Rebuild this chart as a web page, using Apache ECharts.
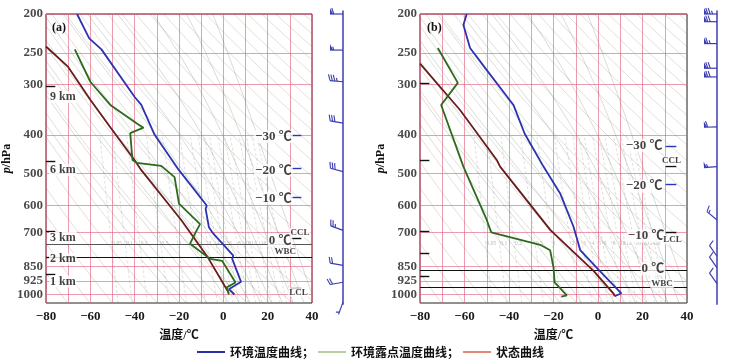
<!DOCTYPE html>
<html><head><meta charset="utf-8">
<script src="https://cdn.jsdelivr.net/npm/echarts@6/dist/echarts.min.js"></script>
<style>html,body{margin:0;padding:0;background:#fff}#c{width:729px;height:363px}</style>
</head><body><div id="c"></div>
<script>
// ---------------- data ----------------
const pressureTicks = [200, 250, 300, 400, 500, 600, 700, 850, 925, 1000];
// Panel (a): [temperature °C, pressure hPa]
const envTempA  = [[-66,200],[-60.5,230],[-55,245],[-40,322],[-37,337],[-31,400],[-20,490],[-7.5,600],[-8,612],[-6.5,680],[-5,700],[4.5,800],[4,815],[8,930],[2.5,970],[5,1000]];
const dewPointA = [[-67,245],[-60,295],[-51,337],[-39,375],[-36,384],[-42,396],[-41,462],[-39,470],[-28,478],[-22,510],[-20,594],[-10.5,668],[-12.5,700],[-15,747],[-6,815],[-0.5,825],[5.5,933],[1.5,960],[2.5,1000]];
const stateA    = [[-80,241],[-70,271],[-60,327],[-51,383],[-40,463],[-37,490],[-19,652],[-7,808],[1.5,970],[2.5,990]];
// Panel (b)
const envTempB  = [[-59,200],[-60.5,213],[-57.5,243],[-50,276],[-38,337],[-33,397],[-24.5,480],[-17,560],[-11,678],[-8,775],[0,864],[10.5,993],[7.5,1010]];
const dewPointB = [[-72,243],[-63,297],[-70.5,337],[-60.5,480],[-50,652],[-48,700],[-26,752],[-21.5,776],[-20,856],[-19.5,933],[-14,1005],[-16.5,1013]];
const stateB    = [[-80,266],[-62,347],[-45.5,462],[-44,480],[-21.5,690],[-2,873],[7,995],[7.5,1010]];
// wind barbs: pressure, speed (m/s), direction (deg)
const windPA = [200,246,295,374,494,692,846,932,1045];
const windSA = [24,22,14,12,12,10,8,8,2];
const windDA = [270,270,275,280,285,290,280,260,200];
const windPB = [200,209,237,273,287,382,480,652,803,858,940];
const windSB = [30,28,26,28,28,24,22,6,4,4,4];
const windDB = [270,270,270,270,270,268,265,310,325,325,325];
// background reference-line parameters
const dryThetas = [200,210,220,230,240,250,260,270,280,290,300,310,320,330,340,350,360,370,380,390,400,410,420,430,440,450,460,470,480,490,500];
const moistT1000 = [-20,-10,0,5,10,15,20,25,30,35,40];
const mixRatios = [0.05,0.1,0.2,0.5,1,2,3,4,5,6,8,10,12,16,20,24,28];
// annotations: [text, T, p, fontSize]
const kmLabelsA = [['9 km',322],['6 km',490],['3 km',723],['2 km',817],['1 km',928]];
const kmTicksA = [302,465,694,807,892];
const kmTicksB = [298,462,696,790,900];
const isoLabelsA = [['−30 ℃',22.6,404,13],['−20 ℃',22.6,490,13],['−10 ℃',22.6,576,13],['0 ℃',25.6,733,13],['CCL',34.6,700,9],['WBC',27.9,784,9],['LCL',33.9,987,9]];
const isoDashA = [[402,'#2a34b8'],[485,'#2a34b8'],[572,'#2a34b8'],[723,'#111'],[964,'#111']];
const levelLinesA = [[751,'#555'],[807,'#111']];
const isoLabelsB = [['−30 ℃',20.7,426,13],['CCL',33.0,465,9],['−20 ℃',20.7,537,13],['−10 ℃',21.6,715,13],['LCL',33.5,731,9],['0 ℃',24.7,862,13],['WBC',28.8,939,9]];
const isoDashB = [[426,'#2a34b8'],[480,'#111'],[532,'#2a34b8'],[698,'#111']];
const levelLinesB = [[871,'#111'],[960,'#111']];

// ---------------- helpers ----------------
const SERIF = "'Liberation Serif','Noto Sans CJK SC',serif";
const PINK = 'rgba(226,96,126,0.62)';
const BLUE = '#2d33b0', GREEN = '#2c6a1c', BROWN = '#6a1c1c';
function thetaToT(theta, p){ return theta*Math.pow(p/1000,0.2857)-273.15; }
function es(tc){ return 6.112*Math.exp(17.67*tc/(tc+243.5)); }
function moistRate(T,p){
  const e=es(T-273.15), rs=0.622*e/(p-e);
  const num=287.04*T+2.501e6*rs;
  const den=1005.7+2.501e6*2.501e6*rs*0.622/(287.04*T*T);
  return num/den/p;
}
function moistCurve(t0){
  const down=[]; let T=t0+273.15, p=1000;
  while(p<1050){ const k1=moistRate(T,p), k2=moistRate(T+k1*5,p+5); T+=(k1+k2)/2*5; p+=5; }
  down.push([T-273.15,1050]);
  const up=[[t0,1000]]; T=t0+273.15; p=1000;
  while(p>200){ const k1=moistRate(T,p), k2=moistRate(T-k1*5,p-5); T-=(k1+k2)/2*5; p-=5; if(p%25===0) up.push([T-273.15,p]); }
  return down.concat(up);
}
function mixT(w,p){ const e=w*p/(622+w), l=Math.log(e/6.112); return 243.5*l/(17.67-l); }
const pLevels = []; for (let p=1050; p>=200; p-=25) pLevels.push(p);

function barbRender(params, api){
  const p=api.value(1), spd=api.value(2), dir=api.value(3)*Math.PI/180;
  const o=api.coord([1,p]);
  const vx=Math.sin(dir), vy=-Math.cos(dir), qx=-vy, qy=vx;
  const L=13, F=6, st=2.4, col='#3a3db4';
  const ch=[{type:'line',shape:{x1:o[0],y1:o[1],x2:o[0]+vx*L,y2:o[1]+vy*L},style:{stroke:col,lineWidth:1.2}}];
  let r=spd, d=L;
  while(r>=20){
    const a=[o[0]+vx*d,o[1]+vy*d], b=[o[0]+vx*(d-st*1.3),o[1]+vy*(d-st*1.3)], c=[a[0]+qx*F,a[1]+qy*F];
    ch.push({type:'polygon',shape:{points:[a,c,b]},style:{fill:col}}); d-=st*1.6; r-=20;
  }
  while(r>=4){
    const a=[o[0]+vx*d,o[1]+vy*d];
    ch.push({type:'line',shape:{x1:a[0],y1:a[1],x2:a[0]+qx*F+vx*F*0.35,y2:a[1]+qy*F+vy*F*0.35},style:{stroke:col,lineWidth:1.1}});
    d-=st; r-=4;
  }
  if(r>=2){
    if(d===L) d-=st;
    const a=[o[0]+vx*d,o[1]+vy*d], h=F*0.55;
    ch.push({type:'line',shape:{x1:a[0],y1:a[1],x2:a[0]+qx*h+vx*h*0.35,y2:a[1]+qy*h+vy*h*0.35},style:{stroke:col,lineWidth:1.1}});
  }
  return {type:'group',children:ch};
}

function panelSeries(i, env, dew, state, kmTicks, kmLabels, isoLabels, isoDash, levelLines){
  const ax = {xAxisIndex:i, yAxisIndex:i};
  const S = [];
  S.push(Object.assign({type:'lines', coordinateSystem:'cartesian2d', polyline:true, silent:true, clip:true, z:2,
    lineStyle:{color:'rgba(150,120,100,0.62)', width:0.8},
    data: dryThetas.map(th=>({coords:pLevels.map(p=>[thetaToT(th,p),p])}))}, ax));
  S.push(Object.assign({type:'lines', coordinateSystem:'cartesian2d', polyline:true, silent:true, clip:true, z:2,
    lineStyle:{color:'rgba(75,125,90,0.62)', width:0.8},
    data: moistT1000.map(t=>({coords:moistCurve(t)}))}, ax));
  S.push(Object.assign({type:'lines', coordinateSystem:'cartesian2d', polyline:true, silent:true, clip:true, z:2,
    lineStyle:{color:'rgba(115,115,115,0.55)', width:0.8, type:[3,2]},
    data: mixRatios.map(w=>({coords:[1050,900,750,600,400].map(p=>[mixT(w,p),p])}))}, ax));
  S.push(Object.assign({type:'scatter', silent:true, clip:false, symbolSize:0, z:3,
    data: mixRatios.map(w=>({value:[mixT(w,745),745], name:String(w)})),
    label:{show:true, position:'right', distance:1, formatter:'{b}', fontSize:5.5, color:'#a8a8a8', fontFamily:SERIF}}, ax));
  S.push(Object.assign({type:'scatter', silent:true, clip:false, symbolSize:0, z:3,
    data: pressureTicks.map(p=>({value:[-80,p], name:String(p)})),
    label:{show:true, position:'left', distance:3, formatter:'{b}', fontSize:13, fontWeight:'bold', color:'#1a1a1a', fontFamily:SERIF},
    markLine:{silent:true, symbol:'none', label:{show:false}, lineStyle:{color:PINK, width:1, type:'solid'},
      data: pressureTicks.map(p=>({yAxis:p}))}}, ax));
  const ml = levelLines.map(l=>({yAxis:l[0], lineStyle:{color:l[1], width:1.2, type:'solid'}}));
  kmTicks.forEach(p=>ml.push([{coord:[-80,p], lineStyle:{color:'#111', width:1.4, type:'solid'}},{coord:[-75.8,p]}]));
  isoDash.forEach(d=>ml.push([{coord:[30.4,d[0]], lineStyle:{color:d[1], width:1.4, type:'solid'}},{coord:[35.2,d[0]]}]));
  S.push(Object.assign({type:'line', name:'环境温度曲线；', data:env, symbol:'none', z:10, lineStyle:{color:BLUE,width:1.8}, itemStyle:{color:BLUE},
    markLine:{silent:true, symbol:'none', label:{show:false}, data:ml}}, ax));
  S.push(Object.assign({type:'line', name:'环境露点温度曲线；', data:dew, symbol:'none', z:10, lineStyle:{color:GREEN,width:1.8}, itemStyle:{color:GREEN}}, ax));
  S.push(Object.assign({type:'line', name:'状态曲线', data:state, symbol:'none', z:9, lineStyle:{color:BROWN,width:1.8}, itemStyle:{color:BROWN}}, ax));
  S.push(Object.assign({type:'scatter', silent:true, clip:false, symbolSize:0, z:20,
    data: isoLabels.map(a=>({value:[a[1],a[2]], name:a[0], label:{fontSize:a[3]}})),
    label:{show:true, position:'inside', formatter:'{b}', fontWeight:'bold', color:'#111', fontFamily:SERIF, backgroundColor:'#fff', padding:[0,1]}}, ax));
  if (kmLabels.length) S.push(Object.assign({type:'scatter', silent:true, clip:false, symbolSize:0, z:20,
    data: kmLabels.map(k=>({value:[-80,k[1]], name:k[0]})),
    label:{show:true, position:'right', distance:3, formatter:'{b}', fontSize:12, fontWeight:'bold', color:'#111', fontFamily:SERIF, backgroundColor:'#fff', padding:[0,1]}}, ax));
  return S;
}

function windSeries(i, P, Sp, D){
  const ax = {xAxisIndex:i, yAxisIndex:i};
  return [
    Object.assign({type:'line', silent:true, clip:false, symbol:'none', data:[[1,196],[1,1060]], lineStyle:{color:'#3a3db4', width:1.5}}, ax),
    Object.assign({type:'custom', silent:true, clip:false, renderItem:barbRender, encode:{x:0,y:1},
      data: P.map((p,k)=>[1,p,Sp[k],D[k]])}, ax)
  ];
}

const tempAxis = gi => ({type:'value', gridIndex:gi, min:-80, max:40, interval:10,
  name:'温度/℃', nameLocation:'middle', nameGap:27,
  nameTextStyle:{fontFamily:SERIF, fontWeight:'bold', fontSize:12, color:'#111'},
  axisLine:{show:false}, axisTick:{show:false},
  axisLabel:{margin:7, fontFamily:SERIF, fontWeight:'bold', fontSize:13, color:'#1a1a1a',
    formatter:v=> v%20===0 ? (v<0?'−'+Math.abs(v):String(v)) : ''},
  splitLine:{show:true, lineStyle:{color:PINK, width:1}}});
const presAxis = gi => ({type:'log', gridIndex:gi, min:200, max:1050, inverse:true,
  name:'{i|p}/hPa', nameLocation:'middle', nameGap:33, nameRotate:90,
  nameTextStyle:{fontFamily:SERIF, fontWeight:'bold', fontSize:12, color:'#111', rich:{i:{fontStyle:'italic', fontFamily:SERIF, fontWeight:'bold', fontSize:12}}},
  axisLine:{show:false}, axisTick:{show:false}, axisLabel:{show:false}, splitLine:{show:false}});
const hidX = gi => ({type:'value', gridIndex:gi, min:0, max:1, show:false});
const hidY = gi => ({type:'log', gridIndex:gi, min:200, max:1050, inverse:true, show:false});

const option = {
  backgroundColor:'#fff',
  animation:false,
  title:[
    {text:'(a)', left:47, top:17, textStyle:{fontFamily:SERIF, fontWeight:'bold', fontSize:12, color:'#111'}},
    {text:'(b)', left:422, top:17, textStyle:{fontFamily:SERIF, fontWeight:'bold', fontSize:12, color:'#111'}}
  ],
  legend:{left:197, top:346, padding:0, icon:'rect', itemWidth:28, itemHeight:2, itemGap:4,
    textStyle:{fontFamily:"'Noto Sans CJK SC'", fontWeight:'bold', fontSize:12, color:'#111'},
    data:[{name:'环境温度曲线；', itemStyle:{color:'#2a2fa8'}},
          {name:'环境露点温度曲线；', itemStyle:{color:'#b9cfa0'}},
          {name:'状态曲线', itemStyle:{color:'#e08a78'}}]},
  grid:[
    {left:45, top:14, width:267, height:289, show:true, borderColor:'#222', borderWidth:1, backgroundColor:'#fff'},
    {left:420, top:14, width:267, height:289, show:true, borderColor:'#222', borderWidth:1, backgroundColor:'#fff'},
    {left:325, top:14, width:18, height:289},
    {left:699, top:14, width:18, height:289}
  ],
  xAxis:[tempAxis(0), tempAxis(1), hidX(2), hidX(3)],
  yAxis:[presAxis(0), presAxis(1), hidY(2), hidY(3)],
  series:[].concat(
    panelSeries(0, envTempA, dewPointA, stateA, kmTicksA, kmLabelsA, isoLabelsA, isoDashA, levelLinesA),
    panelSeries(1, envTempB, dewPointB, stateB, kmTicksB, [], isoLabelsB, isoDashB, levelLinesB),
    windSeries(2, windPA, windSA, windDA),
    windSeries(3, windPB, windSB, windDB)
  )
};
const chart = echarts.init(document.getElementById('c'));
chart.setOption(option);
</script></body></html>
